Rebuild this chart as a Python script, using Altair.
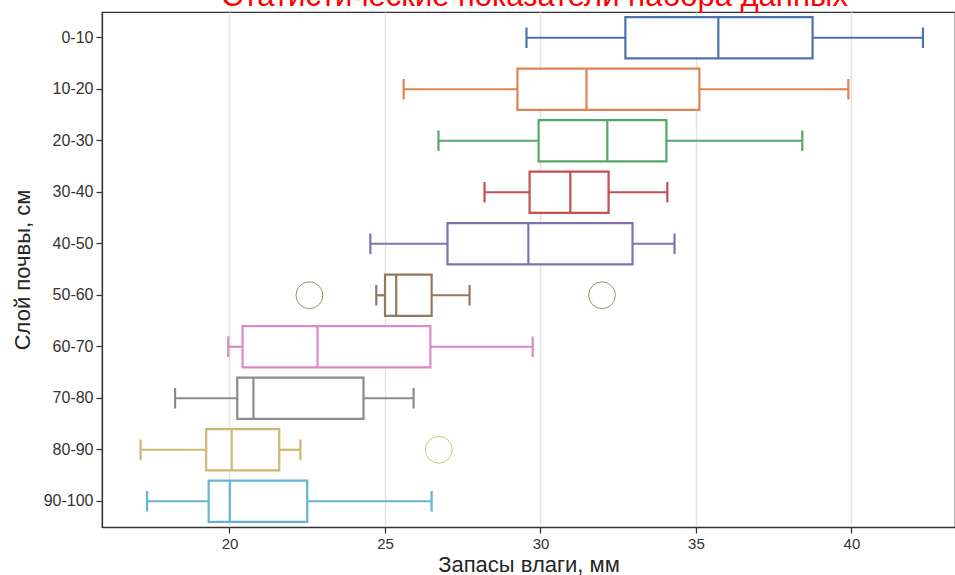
import altair as alt
import pandas as pd

layers = ["0-10", "10-20", "20-30", "30-40", "40-50", "50-60", "60-70", "70-80", "80-90", "90-100"]
whisker_low = [29.55, 25.6, 26.72, 28.2, 24.53, 24.72, 19.96, 18.25, 17.14, 17.35]
q1 = [32.73, 29.26, 29.94, 29.65, 27.01, 25.0, 20.42, 20.25, 19.25, 19.33]
median = [35.72, 31.48, 32.15, 30.96, 29.61, 25.36, 22.83, 20.77, 20.07, 20.01]
q3 = [38.75, 35.11, 34.05, 32.19, 32.96, 26.5, 26.46, 24.31, 21.6, 22.5]
whisker_high = [42.3, 39.9, 38.42, 34.08, 34.31, 27.72, 29.75, 25.92, 22.28, 26.5]
outlier_layers = ["50-60", "50-60", "80-90"]
outlier_values = [22.57, 31.98, 26.73]
palette = ["#4C72B0", "#DD8452", "#55A868", "#C44E52", "#8172B3",
           "#937860", "#DA8BC3", "#8C8C8C", "#CCB974", "#64B5CD"]

stats = pd.DataFrame({"layer": layers, "lo": whisker_low, "q1": q1, "med": median,
                      "q3": q3, "hi": whisker_high})
outl = pd.DataFrame({"layer": outlier_layers, "value": outlier_values})

W, H = 853, 515
xscale = alt.Scale(domain=[15.9, 43.33], nice=False, zero=False)
yscale = alt.Scale(domain=layers, paddingInner=0.2, paddingOuter=0.1)
cscale = alt.Scale(domain=layers, range=palette)

Y = alt.Y("layer:N", scale=yscale, sort=layers,
          axis=alt.Axis(title="Слой почвы, см", grid=False, labelFontSize=16, titlePadding=9))
XA = alt.Axis(title="Запасы влаги, мм", values=[20, 25, 30, 35, 40], grid=True)

base = alt.Chart(stats)
stroke = alt.Stroke("layer:N", scale=cscale, legend=None)
color = alt.Color("layer:N", scale=cscale, legend=None)

w_lo = base.mark_rule(strokeWidth=2.2).encode(
    x=alt.X("lo:Q", scale=xscale, axis=XA), x2="q1:Q", y=Y, color=color)
w_hi = base.mark_rule(strokeWidth=2.2).encode(
    x=alt.X("q3:Q", scale=xscale), x2="hi:Q", y=Y, color=color)
box = base.mark_bar(fill="white", strokeWidth=2.2).encode(
    x=alt.X("q1:Q", scale=xscale), x2="q3:Q", y=Y, stroke=stroke)
med = base.mark_tick(thickness=2.2, size=41, orient="vertical", opacity=1).encode(
    x=alt.X("med:Q", scale=xscale), y=Y, color=color)
cap_lo = base.mark_tick(thickness=2.2, size=20.5, orient="vertical", opacity=1).encode(
    x=alt.X("lo:Q", scale=xscale), y=Y, color=color)
cap_hi = base.mark_tick(thickness=2.2, size=20.5, orient="vertical", opacity=1).encode(
    x=alt.X("hi:Q", scale=xscale), y=Y, color=color)
pts = alt.Chart(outl).mark_point(filled=False, size=720, strokeWidth=1, opacity=0.85).encode(
    x=alt.X("value:Q", scale=xscale), y=Y, color=color)

chart = alt.layer(w_lo, w_hi, box, med, cap_lo, cap_hi, pts).properties(
    width=W, height=H,
    autosize=alt.AutoSizeParams(type="none"),
    padding={"left": 102, "top": 12, "right": 0, "bottom": 48},
    title=alt.TitleParams(
        "Статистические показатели набора данных", color="red", fontSize=31,
        font="Liberation Sans", fontWeight="normal", baseline="alphabetic",
        offset=0, dy=25, anchor="middle", frame="group", dx=6),
).configure_view(
    stroke="#333333", strokeWidth=1.25
).configure_axis(
    labelFont="Liberation Sans", titleFont="Liberation Sans",
    labelColor="#333333", titleColor="#262626", titleFontWeight="normal",
    domainColor="#333333", domainWidth=1.25, tickColor="#333333", tickWidth=1.25,
    tickSize=6, labelPadding=3, gridColor="#e3e3e3", gridWidth=1.5,
    labelFontSize=15, titleFontSize=22,
).configure_axisX(titlePadding=3)

chart.save("out.html", embed_options={"renderer": "svg", "actions": False})
